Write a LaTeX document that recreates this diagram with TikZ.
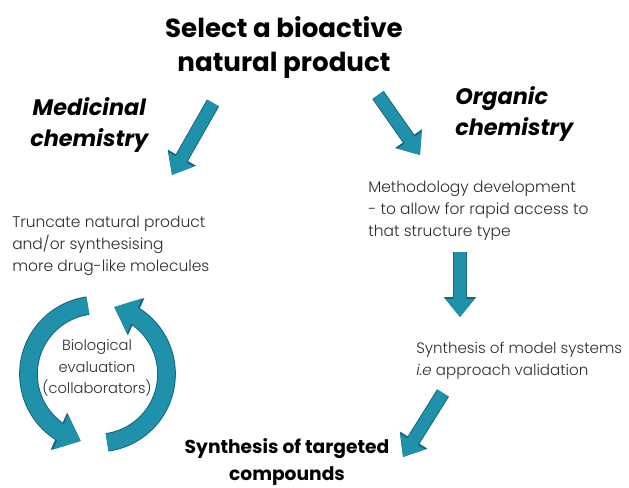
\documentclass[tikz,border=0pt]{standalone}
\usepackage{fontspec}
\setmainfont{Poppins}
\newfontfamily\thinfont{Poppins Light}
\usetikzlibrary{arrows.meta,bending,positioning}
\definecolor{flowteal}{RGB}{32,145,170}
\definecolor{flowedge}{RGB}{22,102,124}
\definecolor{bodygray}{RGB}{45,45,45}
\tikzset{
  headline/.style={font=\bfseries\fontsize{19.6}{26}\selectfont, align=center, inner sep=0pt},
  endline/.style={font=\bfseries\fontsize{14}{20.5}\selectfont, align=center, inner sep=0pt},
  branch/.style={font=\bfseries\itshape\fontsize{16.8}{23.3}\selectfont, inner sep=0pt},
  note/.style={font=\thinfont\fontsize{11.6}{16.5}\selectfont, text=bodygray, align=left, inner sep=0pt},
  flow/.style={draw=flowteal, line width=9pt, -{Triangle[width=21pt,length=13.5pt]},
    preaction={draw=flowedge, line width=10.5pt, -{Triangle[width=23.5pt,length=15pt]}}},
  loopflow/.style={draw=flowteal, line width=12.5pt, -{Triangle[width=27pt,length=16.5pt]},
    preaction={draw=flowedge, line width=14pt, -{Triangle[width=29.5pt,length=18pt]}}}
}
\begin{document}
\begin{tikzpicture}[x=0.75pt,y=0.75pt]
\useasboundingbox (0,0) rectangle (629,-487);
% Blocks
\node [headline, anchor=north] (select) at (284,-16) {Select a bioactive\\natural product};
\node [branch, align=center, anchor=north west] (medchem) at (30,-97) {Medicinal\\chemistry};
\node [branch, align=left, anchor=north west] (orgchem) at (455,-86) {Organic\\chemistry};
\node [note, anchor=north west] (truncate) at (12,-216) {Truncate natural product\\and/or synthesising\\more drug-like molecules};
\node [note, anchor=north west] (method) at (368,-181) {Methodology development\\- to allow for rapid access to\\that structure type};
\node [note, anchor=north west, font=\thinfont\fontsize{11.3}{16}\selectfont] (model) at (416,-342) {Synthesis of model systems\\\textit{i.e} approach validation};
\node [note, align=center, font=\thinfont\fontsize{11}{16.3}\selectfont] (bioeval) at (97,-368) {Biological\\evaluation\\(collaborators)};
\node [endline, anchor=north] (target) at (287,-438) {Synthesis of targeted\\compounds};

% Connections
\draw [flow] ([shift={(-71,-87)}]select.north) -- ([shift={(160,41)}]truncate.north west);
\draw [flow] ([shift={(94,-79)}]select.north) -- ([shift={(52,26)}]method.north west);
\draw [flow] ([shift={(92,-71)}]method.north west) -- ([shift={(44,25)}]model.north west);
\draw [flow] ([shift={(27,-51)}]model.north west) -- ([shift={(116,-19)}]target.north);

% Loop round the evaluation
\draw [loopflow] ([shift={(0.5,-6)}]bioeval.center) ++(98:69) arc [start angle=98, end angle=256, radius=69];
\draw [loopflow] ([shift={(0.5,-6)}]bioeval.center) ++(278:69) arc [start angle=278, end angle=436, radius=69];
\end{tikzpicture}
\end{document}
